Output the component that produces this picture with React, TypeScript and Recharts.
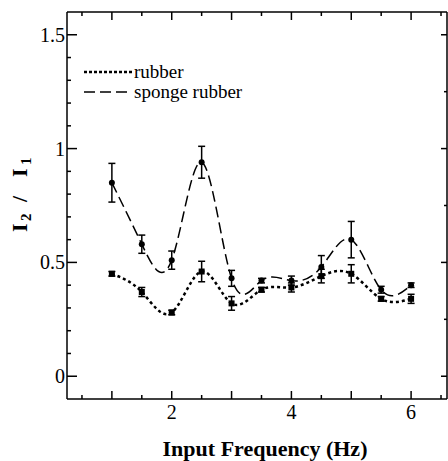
import React from "react";
import {
  LineChart,
  Line,
  XAxis,
  YAxis,
  ErrorBar,
  Legend,
  Label,
} from "recharts";

// input frequency (Hz)
const freq = [1, 1.5, 2, 2.5, 3, 3.5, 4, 4.5, 5, 5.5, 6];
// I2 / I1 for each pad
const rubber = [0.45, 0.37, 0.28, 0.46, 0.32, 0.38, 0.39, 0.44, 0.45, 0.34, 0.34];
const rubberErr = [0.01, 0.02, 0.01, 0.045, 0.03, 0.01, 0.02, 0.03, 0.04, 0.01, 0.02];
const sponge = [0.85, 0.58, 0.51, 0.94, 0.43, 0.42, 0.42, 0.48, 0.6, 0.38, 0.4];
const spongeErr = [0.085, 0.04, 0.04, 0.07, 0.035, 0.01, 0.02, 0.05, 0.08, 0.015, 0.01];

const xTicks = [0.5, 1, 1.5, 2, 2.5, 3, 3.5, 4, 4.5, 5, 5.5, 6, 6.5];
const xLabels = [2, 4, 6];
const yTicks = [0, 0.1, 0.2, 0.3, 0.4, 0.5, 0.6, 0.7, 0.8, 0.9, 1, 1.1, 1.2, 1.3, 1.4, 1.5];
const yLabels = [0, 0.5, 1, 1.5];
const rightTicks = [0, 0.25, 0.5, 0.75, 1, 1.25, 1.5];

const data = freq.map((f, i) => ({
  f,
  rubber: rubber[i],
  rubberErr: rubberErr[i],
  sponge: sponge[i],
  spongeErr: spongeErr[i],
}));

const FONT = "serif";
const isMajor = (v: number) => Math.abs(v * 2 - Math.round(v * 2)) < 1e-6;

function BottomTick({ x, y, payload }: any) {
  const v = payload.value;
  const len = Number.isInteger(v) ? 8 : 4;
  return (
    <g>
      <line x1={x} x2={x} y1={y} y2={y - len} stroke="#000" strokeWidth={1.5} />
      {xLabels.includes(v) && (
        <text x={x} y={y + 20} textAnchor="middle" fontFamily={FONT} fontSize={20} fill="#000">
          {v}
        </text>
      )}
    </g>
  );
}

function TopTick({ x, y, payload }: any) {
  const len = Number.isInteger(payload.value) ? 8 : 4;
  return <line x1={x} x2={x} y1={y} y2={y + len} stroke="#000" strokeWidth={1.5} />;
}

function LeftTick({ x, y, payload }: any) {
  const v = payload.value;
  const major = yLabels.some((m) => Math.abs(m - v) < 1e-6);
  return (
    <g>
      <line x1={x} x2={x + (major ? 10 : 4)} y1={y} y2={y} stroke="#000" strokeWidth={1.5} />
      {major && (
        <text x={x - 2} y={y + 7} textAnchor="end" fontFamily={FONT} fontSize={20} fill="#000">
          {v}
        </text>
      )}
    </g>
  );
}

function RightTick({ x, y, payload }: any) {
  const len = isMajor(payload.value) ? 6 : 3;
  return <line x1={x} x2={x - len} y1={y} y2={y} stroke="#000" strokeWidth={1.5} />;
}

function SquareDot({ cx, cy, index }: any) {
  return <rect key={"r" + index} x={cx - 3} y={cy - 3} width={6} height={6} fill="#000" />;
}

function RoundDot({ cx, cy, index }: any) {
  return <circle key={"s" + index} cx={cx} cy={cy} r={3} fill="#000" />;
}

function renderLegend() {
  const row = (dash: string, w: number, name: string) => (
    <div style={{ display: "flex", alignItems: "center", height: 20 }}>
      <svg width={48} height={10}>
        <line x1={0} x2={48} y1={5} y2={5} stroke="#000" strokeWidth={w} strokeDasharray={dash} />
      </svg>
      <span style={{ fontFamily: FONT, fontSize: 19, marginLeft: 2 }}>{name}</span>
    </div>
  );
  return (
    <div>
      {row("3 2", 2.5, "rubber")}
      {row("11 5", 1.5, "sponge rubber")}
    </div>
  );
}

function YTitle() {
  return (
    <text
      transform="translate(27,232) rotate(-90)"
      fontFamily={FONT}
      fontSize={22}
      fontWeight="bold"
      fill="#000"
    >
      <tspan x={0}>I</tspan>
      <tspan x={11} dy={4} fontSize={15}>2</tspan>
      <tspan x={30} dy={-4}>/</tspan>
      <tspan x={55}>I</tspan>
      <tspan x={67} dy={4} fontSize={15}>1</tspan>
    </text>
  );
}

export default function App() {
  return (
    <div style={{ position: "absolute", left: 0, top: 0, background: "#fff" }}>
      <LineChart width={448} height={461} data={data} margin={{ top: 0, right: 0, bottom: 0, left: 0 }}>
        <XAxis
          dataKey="f"
          type="number"
          domain={[0.25, 6.6]}
          ticks={xTicks}
          allowDataOverflow
          height={62}
          tickSize={0}
          tickMargin={0}
          tickLine={false}
          axisLine={{ stroke: "#000", strokeWidth: 1.5 }}
          tick={<BottomTick />}
          interval={0}
        >
          <Label
            content={() => (
              <text x={265} y={456} textAnchor="middle" fontFamily={FONT} fontSize={22} fontWeight="bold" fill="#000">
                Input Frequency (Hz)
              </text>
            )}
          />
        </XAxis>
        <XAxis
          xAxisId="top"
          orientation="top"
          dataKey="f"
          type="number"
          domain={[0.25, 6.6]}
          ticks={xTicks}
          allowDataOverflow
          height={12}
          tickSize={0}
          tickMargin={0}
          tickLine={false}
          axisLine={{ stroke: "#000", strokeWidth: 1.5 }}
          tick={<TopTick />}
          interval={0}
        />
        <YAxis
          type="number"
          domain={[-0.1, 1.6]}
          ticks={yTicks}
          allowDataOverflow
          width={67}
          tickSize={0}
          tickMargin={0}
          tickLine={false}
          axisLine={{ stroke: "#000", strokeWidth: 1.5 }}
          tick={<LeftTick />}
          interval={0}
        >
          <Label content={() => <YTitle />} />
        </YAxis>
        <YAxis
          yAxisId="r"
          orientation="right"
          type="number"
          domain={[-0.1, 1.6]}
          ticks={rightTicks}
          allowDataOverflow
          width={1}
          tickSize={0}
          tickMargin={0}
          tickLine={false}
          axisLine={{ stroke: "#000", strokeWidth: 1.5 }}
          tick={<RightTick />}
          interval={0}
        />
        <Legend
          content={renderLegend}
          layout="vertical"
          verticalAlign="middle"
          align="center"
          wrapperStyle={{ top: 62, left: 84, width: 200 }}
        />
        <Line
          dataKey="rubber"
          name="rubber"
          type="natural"
          stroke="#000"
          strokeWidth={2.5}
          strokeDasharray="3 3"
          dot={SquareDot}
          activeDot={false}
          isAnimationActive={false}
        >
          <ErrorBar dataKey="rubberErr" width={3.5} stroke="#000" strokeWidth={1.5} direction="y" />
        </Line>
        <Line
          dataKey="sponge"
          name="sponge rubber"
          type="natural"
          stroke="#000"
          strokeWidth={1.5}
          strokeDasharray="11 5"
          dot={RoundDot}
          activeDot={false}
          isAnimationActive={false}
        >
          <ErrorBar dataKey="spongeErr" width={3.5} stroke="#000" strokeWidth={1.5} direction="y" />
        </Line>
      </LineChart>
    </div>
  );
}
